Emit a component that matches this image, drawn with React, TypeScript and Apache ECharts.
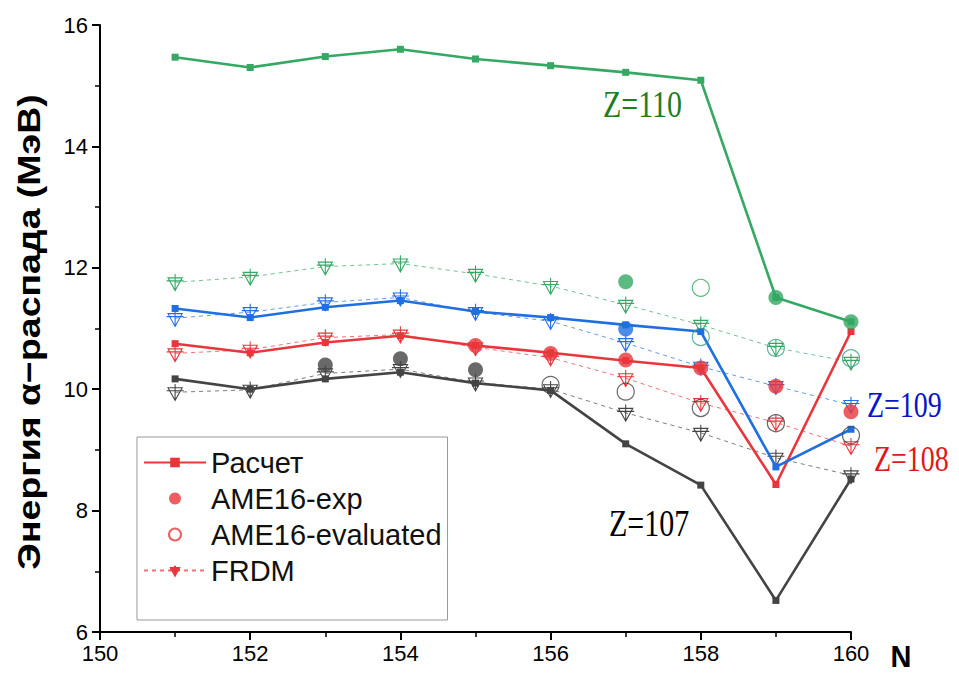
import React, { useEffect, useRef } from "react";
import * as echarts from "echarts";

const N = [151, 152, 153, 154, 155, 156, 157, 158, 159, 160];

const calc107 = [10.17, 10.0, 10.17, 10.28, 10.1, 9.98, 9.1, 8.42, 6.52, 8.52];
const calc108 = [10.75, 10.6, 10.77, 10.88, 10.72, 10.6, 10.47, 10.35, 8.43, 10.95];
const calc109 = [11.33, 11.18, 11.35, 11.46, 11.28, 11.18, 11.06, 10.95, 8.72, 9.34];
const calc110 = [15.47, 15.3, 15.48, 15.6, 15.44, 15.33, 15.22, 15.09, 11.51, 11.11];

const exp107 = [null, null, 10.4, 10.5, 10.32, null, null, null, null, null];
const exp108 = [null, null, null, null, 10.72, 10.59, 10.48, 10.35, 10.05, 9.63];
const exp109 = [null, null, null, null, null, null, 10.99, null, null, null];
const exp110 = [null, null, null, null, null, null, 11.77, null, 11.51, 11.11];

const eval107 = [null, null, null, null, null, 10.07, 9.96, 9.69, 9.44, 9.24];
const eval109 = [null, null, null, null, null, null, null, 10.86, 10.68, 10.51];
const eval110 = [null, null, null, null, null, null, null, 11.67, null, null];

const frdm107 = [9.95, 9.99, 10.26, 10.33, 10.11, 10.0, 9.61, 9.28, 8.87, 8.58];
const frdm108 = [10.59, 10.65, 10.85, 10.9, 10.69, 10.52, 10.18, 9.77, 9.45, 9.06];
const frdm109 = [11.17, 11.27, 11.43, 11.51, 11.27, 11.12, 10.76, 10.37, 10.05, 9.74];
const frdm110 = [11.76, 11.85, 12.02, 12.07, 11.9, 11.7, 11.39, 11.06, 10.68, 10.45];

const xTicks = [150, 152, 154, 156, 158, 160];
const yTicks = [6, 8, 10, 12, 14, 16];

const LEG_CALC = "Расчет";
const LEG_EXP = "AME16-exp";
const LEG_EVAL = "AME16-evaluated";
const LEG_FRDM = "FRDM";

const C = {
  g: "#35a863",
  b: "#1f6fe0",
  r: "#e8363c",
  k: "#444444",
  t: "#3fa08a",
};

const TRI = "path://M0,5 L20,5 L10,22 Z M10,0 L10,22 M-2,9 L22,9";

function pairs(vals: (number | null)[]) {
  const out: number[][] = [];
  vals.forEach((v, i) => {
    if (v !== null) out.push([N[i], v]);
  });
  return out;
}

export default function App() {
  const ref = useRef<HTMLDivElement>(null);
  useEffect(() => {
    if (!ref.current) return;
    const chart = echarts.init(ref.current, null, { renderer: "svg" });

    const frdm = (vals: number[], color: string) => ({
      name: LEG_FRDM,
      type: "line",
      data: pairs(vals),
      symbol: TRI,
      symbolSize: [17, 18],
      symbolKeepAspect: true,
      showAllSymbol: true,
      lineStyle: { color, width: 1, type: [4, 4], opacity: 0.7 },
      itemStyle: { color: "rgba(255,255,255,0)", borderColor: color, borderWidth: 1.1 },
      z: 2,
    });
    const calc = (vals: number[], color: string) => ({
      name: LEG_CALC,
      type: "line",
      data: pairs(vals),
      symbol: "rect",
      symbolSize: 7,
      showAllSymbol: true,
      lineStyle: { color, width: 2.6 },
      itemStyle: { color },
      z: 3,
    });
    const ev = (vals: (number | null)[], color: string) => ({
      name: LEG_EVAL,
      type: "scatter",
      data: pairs(vals),
      symbol: "circle",
      symbolSize: 17,
      itemStyle: { color: "rgba(255,255,255,0)", borderColor: color, borderWidth: 1.2 },
      z: 4,
    });
    const ex = (vals: (number | null)[], color: string) => ({
      name: LEG_EXP,
      type: "scatter",
      data: pairs(vals),
      symbol: "circle",
      symbolSize: 15,
      itemStyle: { color },
      z: 5,
    });

    const serif = "'Liberation Serif', 'Times New Roman', serif";
    const zLabel = (text: string, x: number, y: number, fill: string, size: number) => ({
      type: "text",
      x,
      y,
      scaleY: 1.28,
      style: { text, font: `${size}px ${serif}`, fill, verticalAlign: "middle" },
    });

    const option = {
      animation: false,
      backgroundColor: "#ffffff",
      textStyle: { fontFamily: "Liberation Sans, Arial, sans-serif" },
      grid: { left: 100, right: 108, top: 25, bottom: 43 },
      legend: {
        orient: "vertical",
        left: 137,
        top: 437,
        data: [LEG_CALC, LEG_EXP, LEG_EVAL, LEG_FRDM],
        itemWidth: 62,
        itemHeight: 12,
        itemGap: 7,
        padding: [11, 6, 35, 6],
        borderColor: "#999999",
        borderWidth: 1,
        backgroundColor: "#ffffff",
        selectedMode: false,
        textStyle: { fontSize: 29, lineHeight: 26, color: "#111", fontFamily: "Liberation Sans, Arial, sans-serif" },
      },
      xAxis: {
        type: "value",
        min: xTicks[0],
        max: xTicks[xTicks.length - 1],
        interval: 2,
        axisLine: { show: true, lineStyle: { color: "#000", width: 2 } },
        axisTick: { show: true, length: 8, lineStyle: { color: "#000", width: 2 } },
        minorTick: { show: true, splitNumber: 2, length: 5, lineStyle: { color: "#000", width: 1.5 } },
        axisLabel: { fontSize: 22, color: "#000", margin: 10 },
        splitLine: { show: false },
      },
      yAxis: {
        type: "value",
        min: yTicks[0],
        max: yTicks[yTicks.length - 1],
        interval: 2,
        axisLine: { show: true, lineStyle: { color: "#000", width: 2 } },
        axisTick: { show: true, length: 8, lineStyle: { color: "#000", width: 2 } },
        minorTick: { show: true, splitNumber: 2, length: 5, lineStyle: { color: "#000", width: 1.5 } },
        axisLabel: { fontSize: 22, color: "#000", margin: 12 },
        splitLine: { show: false },
      },
      graphic: [
        {
          type: "text",
          x: 29,
          y: 332,
          rotation: Math.PI / 2,
          scaleX: 1.17,
          style: {
            text: "Энергия α−распада (МэВ)",
            font: "bold 32px 'Liberation Sans', Arial, sans-serif",
            fill: "#000",
            align: "center",
            verticalAlign: "middle",
          },
        },
        {
          type: "text",
          x: 901,
          y: 656,
          scaleY: 1.1,
          style: {
            text: "N",
            font: "bold 29px 'Liberation Sans', Arial, sans-serif",
            fill: "#000",
            align: "center",
            verticalAlign: "middle",
          },
        },
        zLabel("Z=110", 603, 104, "#1e7d1e", 30),
        zLabel("Z=109", 867, 405, "#0a14c8", 28),
        zLabel("Z=108", 874, 459, "#e01818", 28),
        zLabel("Z=107", 609, 523, "#000", 30),
      ],
      series: [
        frdm(frdm108, C.r),
        frdm(frdm107, C.k),
        frdm(frdm109, C.b),
        frdm(frdm110, C.g),
        calc(calc108, C.r),
        calc(calc107, C.k),
        calc(calc109, C.b),
        calc(calc110, C.g),
        ev([], C.r),
        ev(eval107, C.k),
        ev(eval109, C.t),
        ev(eval110, C.g),
        ex(exp108, C.r),
        ex(exp107, C.k),
        ex(exp109, C.b),
        ex(exp110, C.g),
      ],
    };
    chart.setOption(option as any);
    return () => chart.dispose();
  }, []);
  return <div ref={ref} style={{ width: 959, height: 675, margin: -8 }} />;
}
